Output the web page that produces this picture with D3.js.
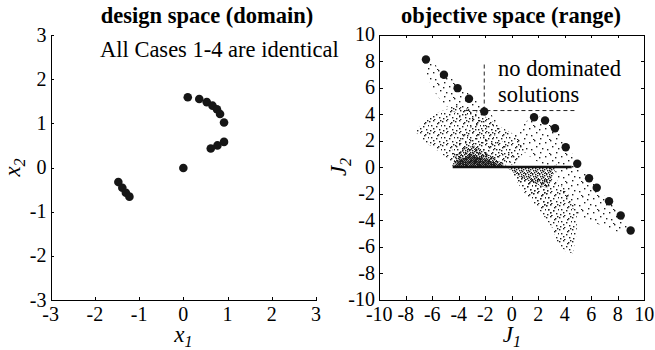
<!DOCTYPE html>
<html>
<head>
<meta charset="utf-8">
<script src="https://cdn.jsdelivr.net/npm/d3@7"></script>
<style>
  body { margin: 0; background: #fff; }
  svg { display: block; font-family: "Liberation Serif", "Times New Roman", serif; }
  .axis path, .axis line { stroke: #000; stroke-width: 1; shape-rendering: crispEdges; }
  .ticklab { font-size: 20px; fill: #000; }
</style>
</head>
<body>
<svg id="chart" width="655" height="350"></svg>
<script>
// design space samples (x1, x2)
const designX1 = [0.10, 0.36, 0.53, 0.66, 0.76, 0.83, 0.92, 0.92, 0.77, 0.62, 0.00, -1.47, -1.38, -1.30, -1.22];
const designX2 = [1.59, 1.55, 1.48, 1.40, 1.32, 1.21, 1.02, 0.58, 0.50, 0.43, -0.01, -0.33, -0.46, -0.57, -0.66];

// non-dominated points in objective space (J1, J2)
const paretoJ1 = [-6.48, -5.12, -4.09, -3.23, -2.08, 1.68, 2.51, 3.26, 4.07, 4.94, 5.83, 6.41, 7.34, 8.22, 8.97];
const paretoJ2 = [8.11, 6.96, 5.95, 5.15, 4.19, 3.76, 3.51, 2.93, 1.49, 0.24, -0.85, -1.57, -2.58, -3.66, -4.79];

// outlines of the sampled cloud in objective space, [J1, J2]
const cloudUpperWedge = [[-6.6,8.3],[-5.1,7.2],[-4.0,6.2],[-3.1,5.4],[-2.0,4.4],[-1.2,3.6],[-0.6,2.6],[-2.5,3.0],[-4.0,3.9],[-5.2,4.8],[-6.0,5.9],[-6.6,7.4]];
const cloudLeftLobe = [[-7.3,2.7],[-6.6,3.5],[-5.4,4.2],[-4.2,4.6],[-3.0,4.3],[-1.8,3.7],[-0.8,3.0],[0.3,2.4],[1.0,1.2],[0.2,0.2],[-1.5,0.1],[-4.4,0.1],[-4.8,0.6],[-5.7,1.3],[-6.7,2.0]];
const cloudInner = [[-4.6,1.0],[-4.0,2.6],[-2.8,3.2],[-1.5,2.6],[-0.3,1.6],[0.4,0.6],[-0.5,0.1],[-4.4,0.1]];
const cloudFanCore = [[-4.5,0.05],[-4.2,0.9],[-3.5,1.5],[-2.8,1.6],[-2.0,1.1],[-1.0,0.5],[-0.3,0.05]];
const cloudFanDark = [[-4.4,0.05],[-3.9,0.6],[-3.0,0.9],[-2.0,0.6],[-1.0,0.2],[-0.5,0.05]];
const cloudHump = [[0.2,2.3],[0.9,3.3],[1.7,3.9],[2.6,3.7],[3.3,3.1],[4.1,1.7],[5.0,0.4],[4.0,0.1],[3.0,-0.2],[1.6,0.6],[0.6,1.4]];
const cloudMesh = [[-0.4,0.0],[3.0,0.0],[3.4,0.2],[3.0,-0.9],[2.7,-1.6],[1.6,-1.2],[0.5,-0.7]];
const cloudStreak = [[0.0,-0.3],[1.5,-1.0],[2.8,-1.8],[3.3,-3.5],[3.0,-3.8],[2.0,-2.6],[0.8,-1.4]];
const cloudTail = [[-0.2,-0.3],[1.5,-0.9],[3.0,-0.9],[4.0,-1.6],[4.9,-3.2],[4.9,-5.0],[4.6,-6.5],[4.1,-6.4],[3.5,-5.8],[3.0,-4.5],[2.2,-3.4],[1.0,-2.0]];
const cloudRightBand = [[3.2,0.0],[4.9,0.3],[5.8,-0.8],[6.4,-1.5],[7.3,-2.5],[8.2,-3.6],[9.0,-4.8],[8.0,-4.9],[6.5,-4.3],[5.0,-3.7],[4.2,-2.6],[3.5,-1.2]];

// the flat accumulation on J2 = 0
const flatJ1 = [-4.46, 4.52];
const flatJ2 = [0, 0];

// dashed guide ("no dominated solutions")
const guideVJ1 = [-2.08, -2.08], guideVJ2 = [4.26, 7.8];
const guideHJ1 = [-3.5, 4.9], guideHJ2 = [4.26, 4.26];

const designTicks = [-3, -2, -1, 0, 1, 2, 3];
const objTicks = [-10, -8, -6, -4, -2, 0, 2, 4, 6, 8, 10];

const svg = d3.select("#chart");

// scales
const xD = d3.scaleLinear().domain([-3, 3]).range([50.7, 316]);
const yD = d3.scaleLinear().domain([-3, 3]).range([300, 35]);
const xJ = d3.scaleLinear().domain([-10, 10]).range([379.3, 644.3]);
const yJ = d3.scaleLinear().domain([-10, 10]).range([299.5, 34.5]);

const fmt = d => String(d); // plain hyphen minus like the original

// ---- stipple patterns for the cloud ----
const defs = svg.append("defs");
function pattern(id, w, h, pts) {
  const p = defs.append("pattern").attr("id", id)
    .attr("patternUnits", "userSpaceOnUse")
    .attr("width", w).attr("height", h);
  pts.forEach(q => p.append("rect").attr("x", q[0]).attr("y", q[1])
    .attr("width", 1.4).attr("height", 1.4).attr("fill", "#1c1c1c"));
}
pattern("sparse", 16, 14, [[1,2],[6,0],[11,3],[14,8],[3,9],[8,6],[12,12],[5,13]]);
pattern("medium", 13, 12, [[0,1],[4,0],[9,2],[12,5],[2,5],[7,6],[10,9],[1,10],[5,11],[8,3],[11,0],[4,8]]);
pattern("dense", 7, 6, [[0,0],[3,0],[5,1],[1,2],[4,3],[6,4],[2,4],[0,5],[5,5],[3,2]]);
pattern("dark", 4, 4, [[0,0],[2,0],[1,1],[3,1],[0,2],[2,2],[1,3],[3,3]]);

const cloud = svg.append("g");
const poly = d3.line().x(d => xJ(d[0])).y(d => yJ(d[1])).curve(d3.curveLinearClosed);
[
  [cloudUpperWedge, "sparse"],
  [cloudLeftLobe, "medium"],
  [cloudInner, "sparse"],
  [cloudHump, "sparse"],
  [cloudRightBand, "sparse"],
  [cloudTail, "medium"],
  [cloudStreak, "medium"],
  [cloudMesh, "dense"],
  [cloudFanCore, "dense"],
  [cloudFanDark, "dark"]
].forEach(([pts, pat]) => {
  cloud.append("path").attr("d", poly(pts)).attr("fill", `url(#${pat})`);
});

// flat line
cloud.append("path")
  .attr("d", d3.line()(flatJ1.map((v, i) => [xJ(v), yJ(flatJ2[i])])))
  .attr("stroke", "#111").attr("stroke-width", 2.4).attr("fill", "none");

// dashed guide
[[guideVJ1, guideVJ2], [guideHJ1, guideHJ2]].forEach(([a, b]) => {
  svg.append("path")
    .attr("d", d3.line()(a.map((v, i) => [xJ(v), yJ(b[i])])))
    .attr("stroke", "#222").attr("stroke-width", 1)
    .attr("stroke-dasharray", "4,3").attr("fill", "none");
});

// pareto dots
svg.append("g").selectAll("circle")
  .data(paretoJ1.map((v, i) => [v, paretoJ2[i]]))
  .join("circle")
  .attr("cx", d => xJ(d[0])).attr("cy", d => yJ(d[1]))
  .attr("r", 4.2).attr("fill", "#161616");

// design dots
svg.append("g").selectAll("circle")
  .data(designX1.map((v, i) => [v, designX2[i]]))
  .join("circle")
  .attr("cx", d => xD(d[0])).attr("cy", d => yD(d[1]))
  .attr("r", 4.3).attr("fill", "#161616");

// ---- axes: ticks inward, labels drawn separately so they keep the serif face ----
function axis(gen, tx, ty) {
  svg.append("g").attr("class", "axis")
    .attr("transform", `translate(${tx},${ty})`)
    .call(gen.tickFormat("").tickSize(-3.5).tickSizeOuter(0));
}
axis(d3.axisBottom(xD).tickValues(designTicks), 0, yD(-3));
axis(d3.axisLeft(yD).tickValues(designTicks), xD(-3), 0);
axis(d3.axisBottom(xJ).tickValues(objTicks), 0, yJ(-10));
axis(d3.axisLeft(yJ).tickValues(objTicks), xJ(-10), 0);
axis(d3.axisTop(xJ).tickValues(objTicks), 0, yJ(10));
axis(d3.axisRight(yJ).tickValues(objTicks), xJ(10), 0);

function xLabels(scale, ticks, y) {
  svg.append("g").selectAll("text").data(ticks).join("text")
    .attr("class", "ticklab").attr("text-anchor", "middle")
    .attr("x", d => scale(d)).attr("y", y).text(fmt);
}
function yLabels(scale, ticks, x) {
  svg.append("g").selectAll("text").data(ticks).join("text")
    .attr("class", "ticklab").attr("text-anchor", "end")
    .attr("x", x).attr("y", d => scale(d)).attr("dy", "0.33em").text(fmt);
}
xLabels(xD, designTicks, 321);
yLabels(yD, designTicks, 46.5);
xLabels(xJ, objTicks, 321);
yLabels(yJ, objTicks, 375);

// ---- titles and labels ----
svg.append("text").attr("x", 207).attr("y", 23).attr("text-anchor", "middle")
  .attr("font-size", 22.5).attr("font-weight", "bold").text("design space (domain)");
svg.append("text").attr("x", 511).attr("y", 23).attr("text-anchor", "middle")
  .attr("font-size", 22.5).attr("font-weight", "bold").text("objective space (range)");

svg.append("text").attr("x", 100).attr("y", 57).attr("font-size", 22.5)
  .text("All Cases 1-4 are identical");
svg.append("text").attr("x", 498).attr("y", 76).attr("font-size", 22.5).text("no dominated");
svg.append("text").attr("x", 498).attr("y", 102).attr("font-size", 22.5).text("solutions");

function subLabel(x, y, main, sub, rotate) {
  const t = svg.append("text")
    .attr("transform", `translate(${x},${y})` + (rotate ? " rotate(-90)" : ""))
    .attr("text-anchor", "middle").attr("font-size", 23).attr("font-style", "italic");
  t.append("tspan").text(main);
  t.append("tspan").attr("font-size", 16).attr("dy", 5).text(sub);
}
subLabel(xD(0), 342, "x", "1", false);
subLabel(xJ(0), 342, "J", "1", false);
subLabel(20, yD(0), "x", "2", true);
subLabel(346, yJ(0), "J", "2", true);
</script>
</body>
</html>
